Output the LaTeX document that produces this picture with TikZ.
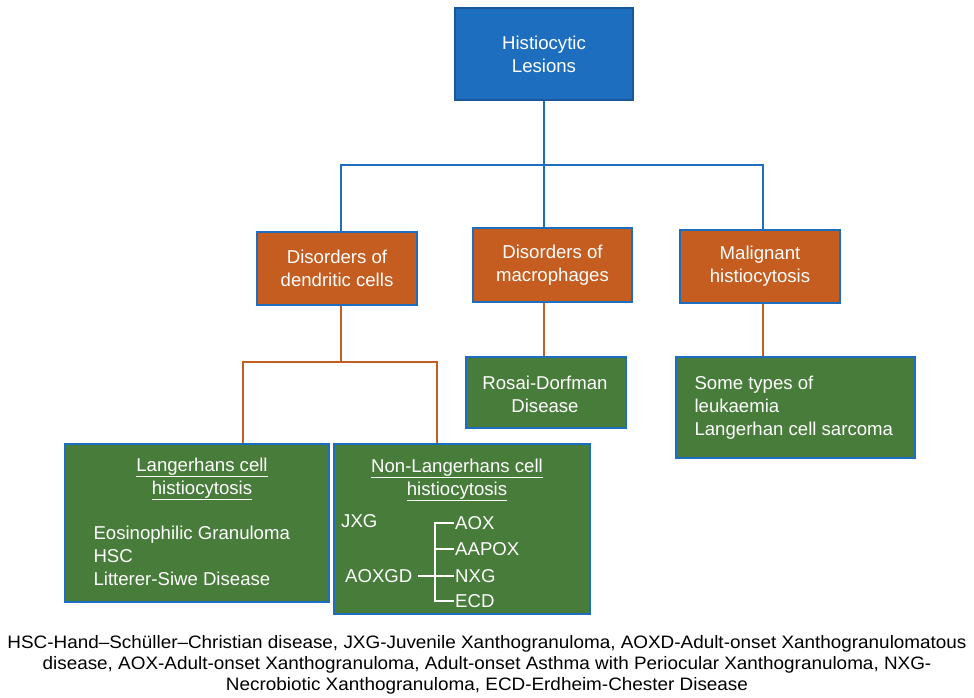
\documentclass[tikz,border=0pt]{standalone}
\usepackage{fontspec}
\setmainfont{Liberation Sans}
\newfontfamily\notefont{Liberation Sans}[FakeStretch=1.05,Ligatures=TeX]
\definecolor{lesionblue}{RGB}{30,110,192}
\definecolor{groupred}{RGB}{197,92,32}
\definecolor{typegreen}{RGB}{72,124,58}
\begin{document}
\begin{tikzpicture}[x=1pt,y=-1pt]
	%\draw[help lines] (0,0) grid[step=50] (974,697);
	\useasboundingbox (0,0) rectangle (974,697);

	\tikzstyle{boxtext} = [text=white,font=\fontsize{18.6}{23}\selectfont]
	\tikzstyle{lesion} = [boxtext,rectangle,draw=lesionblue!80!black,line width=1.2pt,fill=lesionblue,align=center]
	\tikzstyle{group} = [boxtext,rectangle,draw=lesionblue,line width=1.2pt,fill=groupred,align=center]
	\tikzstyle{kind} = [rectangle,draw=lesionblue,line width=1.2pt,fill=typegreen]
	\tikzstyle{label} = [boxtext,inner sep=1pt]
	\tikzstyle{blueline} = [draw=lesionblue,line width=1.6pt]
	\tikzstyle{redline} = [draw=groupred,line width=1.6pt]
	\tikzstyle{whiteline} = [draw=white,line width=1.3pt]

	% top of the tree
	\node[lesion,minimum width=178pt,minimum height=92pt] (hl) at (544,54) {Histiocytic\\Lesions};

	% three groups
	\node[group,minimum width=160pt,minimum height=73pt] (dend) at (337,268.5) {Disorders of\\dendritic cells};
	\node[group,minimum width=159pt,minimum height=74pt] (macro) at (552.5,265) {Disorders of\\macrophages};
	\node[group,minimum width=160pt,minimum height=73pt] (malig) at (760,266.5) {Malignant\\histiocytosis};

	% green boxes
	\node[kind,minimum width=264pt,minimum height=158pt] (lch) at (197,523) {};
	\node[kind,minimum width=256pt,minimum height=170pt] (nlch) at (462,529) {};
	\node[kind,minimum width=160pt,minimum height=71pt] (rosai) at (546,392.5) {};
	\node[kind,minimum width=239pt,minimum height=101pt] (leuk) at (795.5,407.5) {};

	\node[boxtext,align=center] (lchtitle) at (202,479) {\underline{Langerhans cell}\\\underline{histiocytosis}};
	\node[boxtext,align=left,anchor=west] (lchlist) at (90,556) {Eosinophilic Granuloma\\HSC\\Litterer-Siwe Disease};

	\node[boxtext,align=center] (nlchtitle) at (457,480) {\underline{Non-Langerhans cell}\\\underline{histiocytosis}};
	\node[label,anchor=west] (jxg) at (340,521) {JXG};
	\node[label,anchor=west] (aoxgd) at (344,576) {AOXGD};
	\node[label,anchor=west] (aox) at (454,523) {AOX};
	\node[label,anchor=west] (aapox) at (454,549) {AAPOX};
	\node[label,anchor=west] (nxg) at (454,576) {NXG};
	\node[label,anchor=west] (ecd) at (454,601) {ECD};

	\node[boxtext,align=center] (rosaitext) at (545,394) {Rosai-Dorfman\\Disease};
	\node[boxtext,align=left,anchor=west] (leuktext) at (691,408) {Some types of\\leukaemia\\Langerhan cell sarcoma};

	% connectors
	\coordinate (split) at (544,165);
	\draw[blueline] (hl.south) -- (split);
	\draw[blueline] (split) -| ([xshift=4pt]dend.north);
	\draw[blueline] (split) -| ([xshift=3pt]malig.north);
	\draw[blueline] (split) -- (split |- macro.north);

	\coordinate (dsplit) at (341,362);
	\draw[redline] ([xshift=4pt]dend.south) -- (dsplit);
	\draw[redline] (dsplit) -| ([xshift=46pt]lch.north);
	\draw[redline] (dsplit) -| ([xshift=-25pt]nlch.north);
	\draw[redline] ([xshift=-8.5pt]macro.south) -- ([xshift=-8.5pt]macro.south |- rosai.north);
	\draw[redline] ([xshift=3pt]malig.south) -- ([xshift=3pt]malig.south |- leuk.north);

	\draw[whiteline] (aox.west) -- ++(-19,0) |- (ecd.west);
	\draw[whiteline] (aapox.west) -- ++(-19,0);
	\draw[whiteline] ([xshift=4pt]aoxgd.east) -- (nxg.west);

	% abbreviations
	\node[align=center,font=\notefont\fontsize{18}{21}\selectfont] (note) at (487,665) {HSC-Hand--Schüller--Christian disease, JXG-Juvenile Xanthogranuloma, AOXD-Adult-onset Xanthogranulomatous\\disease, AOX-Adult-onset Xanthogranuloma, Adult-onset Asthma with Periocular Xanthogranuloma, NXG-\\Necrobiotic Xanthogranuloma, ECD-Erdheim-Chester Disease};
\end{tikzpicture}
\end{document}
